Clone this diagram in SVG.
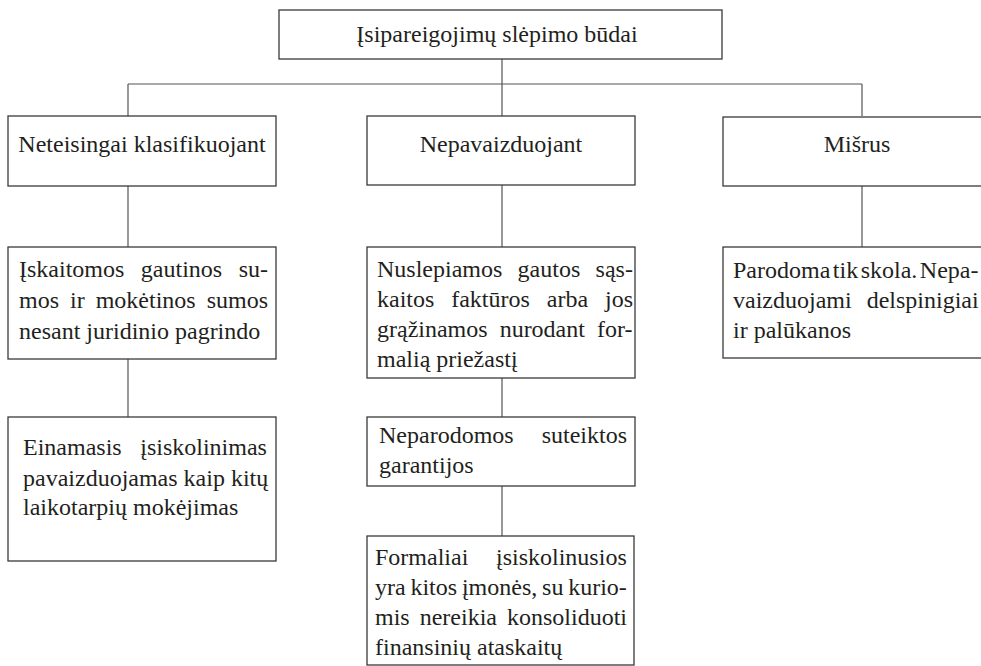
<svg xmlns="http://www.w3.org/2000/svg" width="981" height="666" viewBox="0 0 981 666">
<style>
.box{fill:#fff;stroke:#3a3a3a;stroke-width:1.3}
.c{fill:none;stroke:#555;stroke-width:1.2}
.t text{font-size:24px;fill:#231f20}
.m{text-anchor:middle}
</style>
<rect width="981" height="666" fill="#fff"/>
<g id="connectors">
<path class="c" d="M128,84 H862 M502,59 V117 M128,84 V116 M862,84 V116 M128,186 V247 M128,359 V417 M502,185 V247 M502,378 V417 M502,486 V536 M862,186 V247"/>
</g>
<g class="t" font-family="Liberation Serif, Times New Roman, serif">
<g id="root">
<rect class="box" x="279" y="10" width="443" height="49"/>
<text class="m" x="497" y="42">Įsipareigojimų slėpimo būdai</text>
</g>
<g id="n1">
<rect class="box" x="8" y="116" width="268" height="70"/>
<text class="m" x="142" y="152">Neteisingai klasifikuojant</text>
</g>
<g id="n2">
<rect class="box" x="367" y="116" width="268" height="69"/>
<text class="m" x="501" y="152">Nepavaizduojant</text>
</g>
<g id="n3">
<rect class="box" x="723" y="117" width="268" height="69"/>
<text class="m" x="857" y="152">Mišrus</text>
</g>
<g id="n1a">
<rect class="box" x="8" y="247" width="268" height="112"/>
<text x="19" y="277" word-spacing="10.5">Įskaitomos gautinos su-</text>
<text x="19" y="308" word-spacing="5">mos ir mokėtinos sumos</text>
<text x="19" y="339">nesant juridinio pagrindo</text>
</g>
<g id="n1b">
<rect class="box" x="8" y="417" width="268" height="144"/>
<text x="23" y="455" word-spacing="12.6">Einamasis įsiskolinimas</text>
<text x="23" y="486">pavaizduojamas kaip kitų</text>
<text x="23" y="515">laikotarpių mokėjimas</text>
</g>
<g id="n2a">
<rect class="box" x="367" y="247" width="268" height="131"/>
<text x="377" y="277" word-spacing="9.3">Nuslepiamos gautos sąs-</text>
<text x="377" y="307" word-spacing="10.9">kaitos faktūros arba jos</text>
<text x="377" y="337" word-spacing="6">grąžinamos nurodant for-</text>
<text x="377" y="367">malią priežastį</text>
</g>
<g id="n2b">
<rect class="box" x="367" y="417" width="268" height="69"/>
<text x="379" y="443" word-spacing="22">Neparodomos suteiktos</text>
<text x="379" y="473">garantijos</text>
</g>
<g id="n2c">
<rect class="box" x="367" y="536" width="267" height="129"/>
<text x="375" y="565" word-spacing="21.7">Formaliai įsiskolinusios</text>
<text x="375" y="595" word-spacing="-1.2">yra kitos įmonės, su kurio-</text>
<text x="375" y="625" word-spacing="4">mis nereikia konsoliduoti</text>
<text x="375" y="655">finansinių ataskaitų</text>
</g>
<g id="n3a">
<rect class="box" x="723" y="247" width="268" height="111"/>
<text x="733" y="278" word-spacing="-3.5">Parodoma tik skola. Nepa-</text>
<text x="733" y="308" word-spacing="9">vaizduojami delspinigiai</text>
<text x="733" y="338">ir palūkanos</text>
</g>
</g>
</svg>
